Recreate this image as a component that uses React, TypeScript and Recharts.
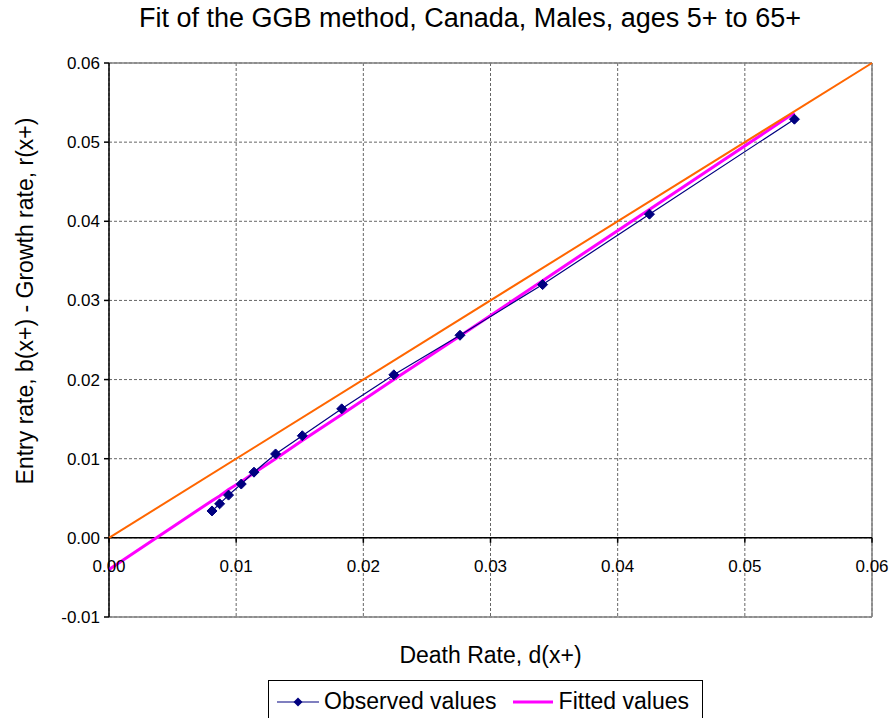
import {
  ScatterChart,
  Scatter,
  XAxis,
  YAxis,
  CartesianGrid,
  ReferenceLine,
} from 'recharts'

// Death rate d(x+) at each open age group
const deathRate = [
  0.0081, 0.0087, 0.0094, 0.0104, 0.0114, 0.0131, 0.0152, 0.0183, 0.0224, 0.0276, 0.0341, 0.0425,
  0.0539,
]
// Observed b(x+) - r(x+)
const observedRate = [
  0.0034, 0.0043, 0.0054, 0.0068, 0.0083, 0.0106, 0.0129, 0.0163, 0.0206, 0.0256, 0.032, 0.0409,
  0.0529,
]
// Fitted line, starts at d = 0
const fittedDeathRate = [
  0, 0.0081, 0.0087, 0.0094, 0.0104, 0.0114, 0.0131, 0.0152, 0.0183, 0.0224, 0.0276, 0.0341, 0.0425,
  0.0539,
]
const fittedRate = [
  -0.004, 0.0047, 0.0053, 0.0061, 0.0071, 0.0082, 0.01, 0.0123, 0.0156, 0.02, 0.0255, 0.0325, 0.0415,
  0.0537,
]
// y = x reference line
const equalityLine = [0, 0.06]

const xTicks = [0, 0.01, 0.02, 0.03, 0.04, 0.05, 0.06]
const yTicks = [-0.01, 0, 0.01, 0.02, 0.03, 0.04, 0.05, 0.06]

const FONT = '"Liberation Sans", Arial, sans-serif'
const PLOT_TOP = 63
const PLOT_BOTTOM = 617
const Y_MIN = -0.01
const Y_MAX = 0.06
const NAVY = '#000080'
const MAGENTA = '#FF00FF'
const ORANGE = '#FF6600'

const observedData = deathRate.map((x, i) => ({ x, y: observedRate[i] }))
const fittedData = fittedDeathRate.map((x, i) => ({ x, y: fittedRate[i] }))
const equalityData = equalityLine.map(v => ({ x: v, y: v }))

const Diamond = (props: any) => {
  const { cx, cy } = props
  if (cx == null || cy == null) return <g />
  const r = 5
  return (
    <polygon
      points={`${cx},${cy - r} ${cx + r},${cy} ${cx},${cy + r} ${cx - r},${cy}`}
      fill={NAVY}
      stroke={NAVY}
    />
  )
}

const NoMarker = () => <g />

// x ticks sit on the y = 0 line, not on the bottom of the plot
const XTick = (props: any) => {
  const { x, y, payload } = props
  const zeroY = y - ((PLOT_BOTTOM - PLOT_TOP) * (0 - Y_MIN)) / (Y_MAX - Y_MIN)
  return (
    <g>
      <line x1={x} x2={x} y1={zeroY} y2={zeroY + 5} stroke="#000" strokeWidth={1.5} />
      <text
        x={x}
        y={zeroY + 34}
        textAnchor="middle"
        fontSize={17}
        fontFamily={FONT}
        fill="#000"
      >
        {Number(payload.value).toFixed(2)}
      </text>
    </g>
  )
}

const YTick = (props: any) => {
  const { x, y, payload } = props
  return (
    <text x={x} y={y + 6} textAnchor="end" fontSize={17} fontFamily={FONT} fill="#000">
      {Number(payload.value).toFixed(2)}
    </text>
  )
}

export default function App() {
  return (
    <div
      style={{
        position: 'absolute',
        left: 0,
        top: 0,
        width: 894,
        height: 718,
        background: '#fff',
        fontFamily: FONT,
        overflow: 'hidden',
      }}
    >
      <div
        style={{
          position: 'absolute',
          left: 0,
          width: 940,
          top: 3,
          textAlign: 'center',
          fontSize: 27,
          color: '#000',
          whiteSpace: 'nowrap',
        }}
      >
        Fit of the GGB method, Canada, Males, ages 5+ to 65+
      </div>

      <ScatterChart
        width={894}
        height={718}
        margin={{ top: PLOT_TOP, right: 22, bottom: 61, left: 0 }}
      >
        <CartesianGrid stroke="#666" strokeDasharray="3 2" />
        <XAxis
          type="number"
          dataKey="x"
          domain={[0, 0.06]}
          ticks={xTicks}
          height={40}
          axisLine={{ stroke: '#808080', strokeWidth: 1.5 }}
          tickLine={false}
          tickSize={0}
          tickMargin={0}
          tick={<XTick />}
          label={{
            content: ({ viewBox }: any) => (
              <text
                x={viewBox.x + viewBox.width / 2}
                y={viewBox.y + 46}
                textAnchor="middle"
                fontSize={23}
                fontFamily={FONT}
                fill="#000"
              >
                Death Rate, d(x+)
              </text>
            ),
          }}
        />
        <YAxis
          type="number"
          dataKey="y"
          domain={[Y_MIN, Y_MAX]}
          ticks={yTicks}
          width={109}
          axisLine={{ stroke: '#000', strokeWidth: 1.5 }}
          tickLine={{ stroke: '#000', strokeWidth: 1.5 }}
          tickSize={5}
          tickMargin={4}
          tick={<YTick />}
          label={{
            content: () => (
              <text
                x={0}
                y={0}
                transform="translate(33, 301) rotate(-90)"
                textAnchor="middle"
                fontSize={23}
                fontFamily={FONT}
                fill="#000"
              >
                Entry rate, b(x+) - Growth rate, r(x+)
              </text>
            ),
          }}
        />
        <ReferenceLine y={0.06} stroke="#808080" strokeWidth={1.5} />
        <ReferenceLine x={0.06} stroke="#808080" strokeWidth={1.5} />
        <ReferenceLine y={0} stroke="#000" strokeWidth={1.5} />

        <Scatter
          name="Fitted values"
          data={fittedData}
          line={{ stroke: MAGENTA, strokeWidth: 3 }}
          shape={<NoMarker />}
          isAnimationActive={false}
        />
        <Scatter
          name="d = b - r"
          data={equalityData}
          line={{ stroke: ORANGE, strokeWidth: 2 }}
          shape={<NoMarker />}
          isAnimationActive={false}
        />
        <Scatter
          name="Observed values"
          data={observedData}
          line={{ stroke: NAVY, strokeWidth: 1.2 }}
          shape={<Diamond />}
          isAnimationActive={false}
        />
      </ScatterChart>

      <div
        style={{
          position: 'absolute',
          left: 268,
          top: 680,
          width: 435,
          height: 50,
          border: '1px solid #000',
          boxSizing: 'border-box',
          display: 'flex',
          alignItems: 'flex-start',
          paddingTop: 7,
          fontSize: 23,
          color: '#000',
        }}
      >
        <svg width={42} height={26} style={{ marginLeft: 8 }}>
          <line x1={0} x2={42} y1={14} y2={14} stroke={NAVY} strokeWidth={1.2} />
          <polygon points="21,9.5 25.5,14 21,18.5 16.5,14" fill={NAVY} />
        </svg>
        <span style={{ marginLeft: 5 }}>Observed values</span>
        <svg width={40} height={26} style={{ marginLeft: 16 }}>
          <line x1={0} x2={40} y1={14} y2={14} stroke={MAGENTA} strokeWidth={3} />
        </svg>
        <span style={{ marginLeft: 6 }}>Fitted values</span>
      </div>
    </div>
  )
}
